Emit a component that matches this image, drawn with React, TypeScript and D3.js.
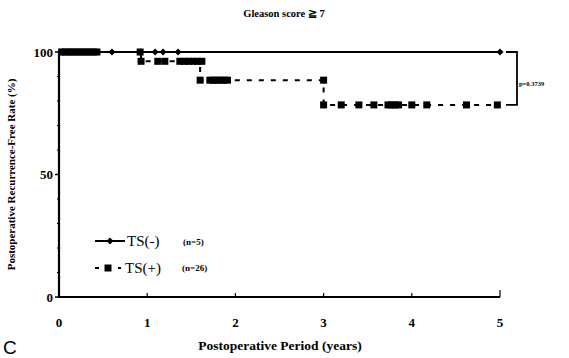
import React from "react";
import * as d3 from "d3";

// Kaplan–Meier style recurrence-free curves, Gleason score >= 7
const xTicks = [0, 1, 2, 3, 4, 5];
const yTicks = [0, 50, 100];
const yMinorTicks = [10, 20, 30, 40, 60, 70, 80, 90];

// TS(-): no events, censored observations along 100%
const tsNegCensored = [0.02, 0.05, 0.08, 0.11, 0.14, 0.17, 0.2, 0.23, 0.26, 0.29, 0.32, 0.35, 0.38, 0.41, 0.44, 0.6, 0.92, 1.09, 1.18, 1.35, 5.0];

// TS(+): step function (event times and survival after each step)
const tsPosTimes = [0, 0.93, 1.6, 3.0];
const tsPosSurv = [100, 96.2, 88.5, 78.4];
// TS(+): censored observations per level
const tsPosCensoredAt100 = [0.03, 0.07, 0.11, 0.15, 0.19, 0.23, 0.27, 0.31, 0.35, 0.39, 0.43, 0.92];
const tsPosCensoredAt96 = [0.93, 1.12, 1.2, 1.37, 1.42, 1.47, 1.52, 1.57, 1.62];
const tsPosCensoredAt88 = [1.6, 1.71, 1.75, 1.79, 1.83, 1.87, 1.91, 3.0];
const tsPosCensoredAt78 = [3.0, 3.2, 3.4, 3.57, 3.73, 3.77, 3.81, 3.85, 4.0, 4.17, 4.62, 4.97];
const endTime = 5;

const pValue = "p=0.3739";

export default function App() {
  const width = 569;
  const height = 358;
  const x = d3.scaleLinear().domain([0, 5]).range([59, 500]);
  const y = d3.scaleLinear().domain([0, 100]).range([297, 52]);

  const negLine = d3.line<[number, number]>().x((d) => x(d[0])).y((d) => y(d[1]))([
    [0, 100],
    [endTime, 100],
  ]);

  const posPts: [number, number][] = [];
  tsPosTimes.forEach((t, i) => {
    if (i > 0) posPts.push([t, tsPosSurv[i - 1]]);
    posPts.push([t, tsPosSurv[i]]);
  });
  posPts.push([endTime, tsPosSurv[tsPosSurv.length - 1]]);
  const posLine = d3.line<[number, number]>().x((d) => x(d[0])).y((d) => y(d[1]))(posPts);

  const squares: [number, number][] = [
    ...tsPosCensoredAt100.map((t) => [t, tsPosSurv[0]] as [number, number]),
    ...tsPosCensoredAt96.map((t) => [t, tsPosSurv[1]] as [number, number]),
    ...tsPosCensoredAt88.map((t) => [t, tsPosSurv[2]] as [number, number]),
    ...tsPosCensoredAt78.map((t) => [t, tsPosSurv[3]] as [number, number]),
  ];

  const diamond = (cx: number, cy: number, r: number) =>
    `M${cx},${cy - r}L${cx + r},${cy}L${cx},${cy + r}L${cx - r},${cy}Z`;

  const serif = "'Liberation Serif', 'Times New Roman', serif";
  const sq = 7;

  const yTop = y(100);
  const yLow = y(tsPosSurv[tsPosSurv.length - 1]);

  return (
    <svg
      width={width}
      height={height}
      style={{ position: "absolute", left: 0, top: 0, background: "#fff" }}
      fontFamily={serif}
    >
      <rect width={width} height={height} fill="#fff" />
      <text x={284} y={17} textAnchor="middle" fontSize={10.5} fontWeight="bold">
        Gleason score ≧ 7
      </text>

      {/* axes */}
      <line x1={x(0)} x2={x(0)} y1={y(100) - 1} y2={y(0) + 1} stroke="#000" strokeWidth={2.2} />
      <line x1={x(0) - 1} x2={x(5)} y1={y(0)} y2={y(0)} stroke="#000" strokeWidth={2.2} />
      {yTicks.map((t) => (
        <g key={t}>
          <line x1={x(0) - 4} x2={x(0)} y1={y(t)} y2={y(t)} stroke="#000" strokeWidth={1.5} />
          <text x={53} y={y(t) + 4.5} textAnchor="end" fontSize={13} fontWeight="bold">
            {t}
          </text>
        </g>
      ))}
      {yMinorTicks.map((t) => (
        <line key={t} x1={x(0) - 2} x2={x(0)} y1={y(t)} y2={y(t)} stroke="#000" strokeWidth={1} />
      ))}
      {xTicks.map((t) => (
        <g key={t}>
          {t > 0 && <line x1={x(t)} x2={x(t)} y1={y(0)} y2={y(0) - (t === 5 ? 7 : 4)} stroke="#000" strokeWidth={1.2} />}
          <text x={x(t)} y={327} textAnchor="middle" fontSize={13} fontWeight="bold">
            {t}
          </text>
        </g>
      ))}
      <text
        transform={`translate(15,${(y(0) + y(100)) / 2}) rotate(-90)`}
        textAnchor="middle"
        fontSize={11}
        fontWeight="bold"
      >
        Postoperative Recurrence-Free Rate (%)
      </text>
      <text x={280} y={350} textAnchor="middle" fontSize={13.5} fontWeight="bold">
        Postoperative Period (years)
      </text>
      <text x={3} y={354} fontSize={19} fontFamily="'Liberation Sans', Arial, sans-serif">
        C
      </text>

      {/* TS(+) dashed step curve */}
      <path d={posLine ?? ""} fill="none" stroke="#000" strokeWidth={2} strokeDasharray="5,7" />
      {squares.map(([t, s], i) => (
        <rect key={i} x={x(t) - sq / 2} y={y(s) - sq / 2} width={sq} height={sq} fill="#000" />
      ))}

      {/* TS(-) solid curve */}
      <path d={negLine ?? ""} fill="none" stroke="#000" strokeWidth={2} />
      {tsNegCensored.map((t, i) => (
        <path key={i} d={diamond(x(t), y(100), 3.5)} fill="#000" />
      ))}

      {/* p-value bracket */}
      <path
        d={`M${x(5) + 6},${yTop}H${x(5) + 17}V${yLow}H${x(5) + 6}`}
        fill="none"
        stroke="#000"
        strokeWidth={1.8}
      />
      <text x={519} y={86} fontSize={6.5} fontWeight="bold">
        {pValue}
      </text>

      {/* legend */}
      <line x1={95} x2={125} y1={241} y2={241} stroke="#000" strokeWidth={2} />
      <path d={diamond(110, 241, 3.5)} fill="#000" />
      <text x={127} y={246} fontSize={15}>
        TS(-)
      </text>
      <text x={183} y={245} fontSize={9} fontWeight="bold">
        (n=5)
      </text>
      <line x1={95} x2={99} y1={268} y2={268} stroke="#000" strokeWidth={2} />
      <rect x={104.5} y={264.5} width={sq} height={sq} fill="#000" />
      <line x1={118} x2={121} y1={268} y2={268} stroke="#000" strokeWidth={2} />
      <text x={125} y={273} fontSize={15}>
        TS(+)
      </text>
      <text x={182} y={271} fontSize={9} fontWeight="bold">
        (n=26)
      </text>
    </svg>
  );
}
